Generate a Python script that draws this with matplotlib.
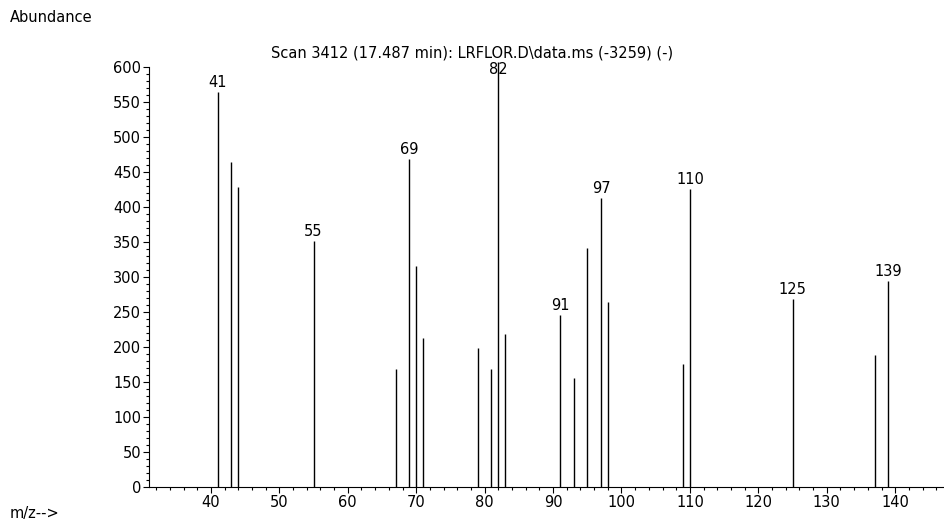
import matplotlib.pyplot as plt
from matplotlib.ticker import MultipleLocator, FixedLocator

plt.rcParams['font.family'] = ['DejaVu Sans']

# peaks
mz = [41, 43, 44, 55, 67, 69, 70, 71, 79, 81, 82, 83, 91, 93, 95, 97, 98,
      109, 110, 125, 137, 139]
abundance = [564, 464, 428, 351, 169, 468, 315, 213, 198, 169, 607, 218,
             245, 156, 341, 413, 264, 176, 425, 268, 188, 294]
labelled = [41, 55, 69, 82, 91, 97, 110, 125, 139]

title = r'Scan 3412 (17.487 min): LRFLOR.D\data.ms (-3259) (-)'

fig = plt.figure(figsize=(9.45, 5.23), dpi=100)
ax = fig.add_axes([0.158, 0.069, 0.84, 0.823])

ax.vlines(mz, 0, abundance, color='black', linewidth=1.0)
for m, a in zip(mz, abundance):
    if m in labelled:
        # the base peak label sits on the line, just under the title
        ax.text(m, min(a + 3, 585), str(m), ha='center', va='bottom', fontsize=10.5)

ax.set_xlim(31, 147)
ax.set_ylim(0, 615)
ax.spines['top'].set_visible(False)
ax.spines['right'].set_visible(False)
ax.spines['left'].set_bounds(0, 600)
ax.set_xticks(range(40, 141, 10))
ax.xaxis.set_minor_locator(MultipleLocator(2))
ax.set_yticks(range(0, 601, 50))
ax.yaxis.set_minor_locator(FixedLocator(range(0, 601, 10)))
ax.tick_params(axis='both', which='major', labelsize=10.5, length=4, width=0.8, pad=2)
ax.tick_params(axis='both', which='minor', length=2.5, width=0.8)

fig.text(472 / 945, 1 - 57 / 523, title, ha='center', va='baseline', fontsize=10.5)
fig.text(10 / 945, 1 - 22 / 523, 'Abundance', ha='left', va='baseline', fontsize=10.5)
fig.text(10 / 945, 1 - 518 / 523, 'm/z-->', ha='left', va='baseline', fontsize=10.5)

fig.savefig('out.png', dpi=100)
